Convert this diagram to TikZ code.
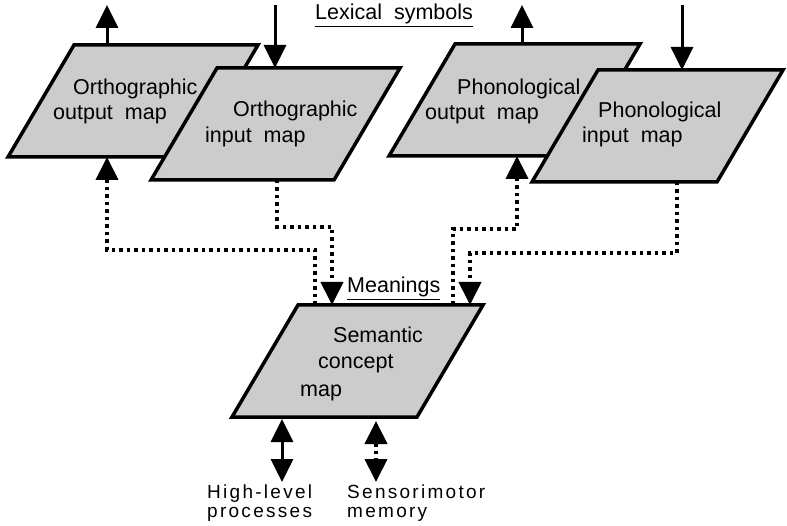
\documentclass[tikz,border=0pt]{standalone}
\usepackage{fontspec}
\setmainfont{Liberation Sans}
\usetikzlibrary{arrows.meta}

\begin{document}
\begin{tikzpicture}[x=1pt, y=-1pt, >={Triangle[width=22pt,length=23pt]},
    map/.style={draw, line width=3.5pt, fill=black!20},
    maptext/.style={anchor=base west, inner sep=0pt, font=\fontsize{21.5}{26}\selectfont},
    lowtext/.style={anchor=base west, inner sep=0pt, font=\fontsize{19}{22}\selectfont\addfontfeature{LetterSpace=12}},
    link/.style={line width=3pt, ->},
    dotlink/.style={line width=4pt, dash pattern=on 3.5pt off 4pt, ->}]

    \useasboundingbox (0,0) rectangle (787,526);

    % the five maps
    \draw [map] (74,45) -- (258,45) -- (192,157) -- (8,157) -- cycle;
    \draw [map] (217,68) -- (400,68) -- (334,180) -- (151,180) -- cycle;
    \draw [map] (455,44) -- (640,44) -- (574,156) -- (389,156) -- cycle;
    \draw [map] (598,70) -- (783,70) -- (717,182) -- (532,182) -- cycle;
    \draw [map] (298,305) -- (483,305) -- (417,417) -- (232,417) -- cycle;

    \node [maptext] (oo1) at (73,95) {Orthographic};
    \node [maptext] (oo2) at (53,120) {output\ \ map};
    \node [maptext] (oi1) at (233,117) {Orthographic};
    \node [maptext] (oi2) at (205,143) {input\ \ map};
    \node [maptext] (po1) at (457,95) {Phonological};
    \node [maptext] (po2) at (425,120) {output\ \ map};
    \node [maptext] (pi1) at (598,118) {Phonological};
    \node [maptext] (pi2) at (582,143) {input\ \ map};
    \node [maptext] (sm1) at (333,343) {Semantic};
    \node [maptext] (sm2) at (318,369) {concept};
    \node [maptext] (sm3) at (300,396) {map};

    \node [maptext] (lex) at (315,20) {\underline{Lexical\ \ symbols}};
    \node [maptext] (mean) at (347,293) {\underline{Meanings}};

    \node [lowtext] (hl1) at (207,498) {High-level};
    \node [lowtext] (hl2) at (207,517) {processes};
    \node [lowtext] (sens1) at (347,498) {Sensorimotor};
    \node [lowtext] (sens2) at (347,517) {memory};

    % ports
    \coordinate (oo-top) at (107,45);
    \coordinate (oo-out) at (107,5);
    \coordinate (oi-in) at (275,5);
    \coordinate (oi-top) at (275,68);
    \coordinate (po-top) at (522,44);
    \coordinate (po-out) at (522,5);
    \coordinate (pi-in) at (682,5);
    \coordinate (pi-top) at (682,70);

    \coordinate (oo-bot) at (107,157);
    \coordinate (oi-bot) at (277,180);
    \coordinate (po-bot) at (517,156);
    \coordinate (pi-bot) at (677,182);
    \coordinate (s1) at (315,305);
    \coordinate (s2) at (332,305);
    \coordinate (s3) at (453,305);
    \coordinate (s4) at (470,305);
    \coordinate (k1) at (107,250);
    \coordinate (k2) at (332,227);
    \coordinate (k3) at (517,229);
    \coordinate (k4) at (470,253);

    \coordinate (hl-top) at (282,419);
    \coordinate (hl-end) at (282,482);
    \coordinate (sens-top) at (376,421);
    \coordinate (sens-end) at (376,482);

    % lexical in and out
    \draw [link] (oo-top) -- (oo-out);
    \draw [link] (oi-in) -- (oi-top);
    \draw [link] (po-top) -- (po-out);
    \draw [link] (pi-in) -- (pi-top);

    % to and from meanings
    \draw [dotlink] (s1) |- (k1) -- (oo-bot);
    \draw [dotlink] (oi-bot) |- (k2) -- (s2);
    \draw [dotlink] (s3) |- (k3) -- (po-bot);
    \draw [dotlink] (pi-bot) |- (k4) -- (s4);

    \draw [link, <->] (hl-top) -- (hl-end);
    \draw [dotlink, <->] (sens-top) -- (sens-end);

\end{tikzpicture}
\end{document}
